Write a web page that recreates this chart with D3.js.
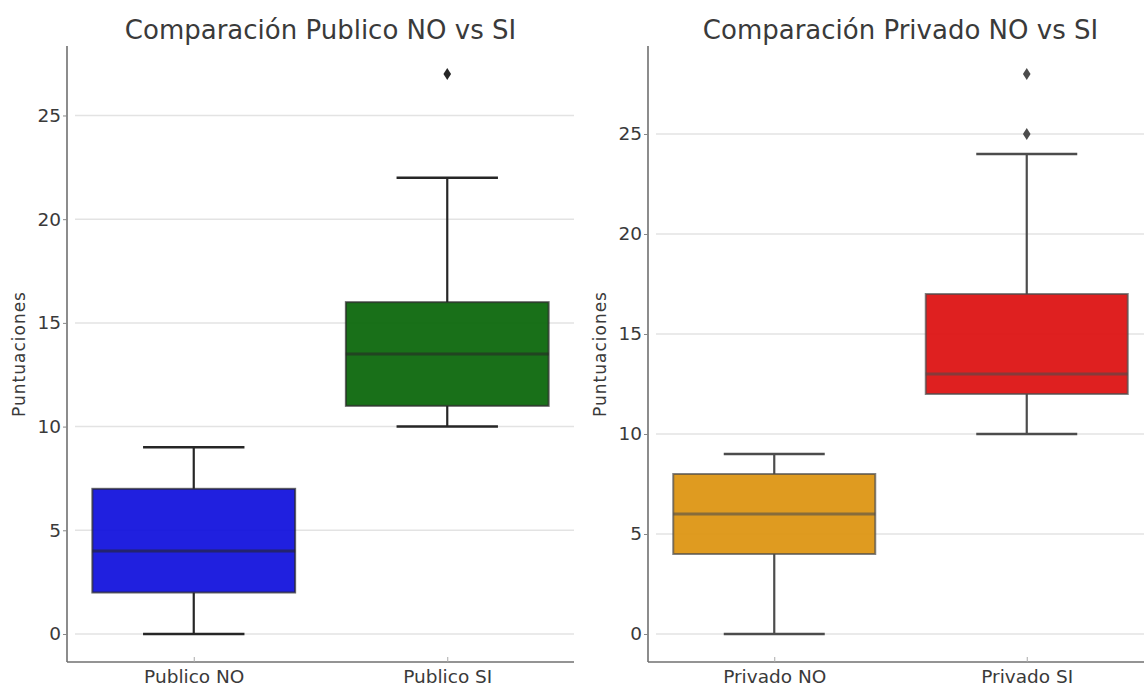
<!DOCTYPE html>
<html><head><meta charset="utf-8">
<script src="https://cdn.jsdelivr.net/npm/d3@7"></script>
<style>
body{margin:0;background:#fff;}
text{font-family:"DejaVu Sans",sans-serif;}
</style></head>
<body><svg id="c" width="1144" height="687"></svg>
<script>
// Data
const publicoCats = ["Publico NO", "Publico SI"];
const publicoMin = [0, 10];
const publicoQ1 = [2, 11];
const publicoMed = [4, 13.5];
const publicoQ3 = [7, 16];
const publicoMax = [9, 22];
const publicoOut = [[], [27]];
const publicoColors = ["#0d0ddc", "#056405"];
const publicoLine = "#262626";

const privadoCats = ["Privado NO", "Privado SI"];
const privadoMin = [0, 10];
const privadoQ1 = [4, 12];
const privadoMed = [6, 13];
const privadoQ3 = [8, 17];
const privadoMax = [9, 24];
const privadoOut = [[], [25, 28]];
const privadoColors = ["#dc930d", "#dc0d0d"];
const privadoLine = "#4c4c4c";

const yTicks = [0, 5, 10, 15, 20, 25];
const titles = ["Comparación Publico NO vs SI", "Comparación Privado NO vs SI"];
const yLabel = "Puntuaciones";

const svg = d3.select("#c");

function panel(cfg) {
  const {x0, x1, top, bottom, cats, mn, q1, med, q3, mx, outs, colors, line, yDom, title} = cfg;
  const g = svg.append("g");
  const x = d3.scaleLinear().domain([-0.5, 1.5]).range([x0, x1]);
  const y = d3.scaleLinear().domain(yDom).range([bottom, top]);
  const step = x(1) - x(0);
  const bw = step * 0.8;

  // grid
  g.selectAll(".grid").data(yTicks).join("line")
    .attr("x1", x0 + 8).attr("x2", x1).attr("y1", d => y(d)).attr("y2", d => y(d))
    .attr("stroke", "#e3e3e3").attr("stroke-width", 1.5);

  const data = cats.map((c, i) => ({i, c, mn: mn[i], q1: q1[i], med: med[i], q3: q3[i], mx: mx[i], out: outs[i], col: colors[i]}));
  const bx = g.selectAll(".bx").data(data).join("g");
  // whiskers
  bx.append("line").attr("x1", d => x(d.i)).attr("x2", d => x(d.i))
    .attr("y1", d => y(d.q3)).attr("y2", d => y(d.mx)).attr("stroke", line).attr("stroke-width", 2.2);
  bx.append("line").attr("x1", d => x(d.i)).attr("x2", d => x(d.i))
    .attr("y1", d => y(d.q1)).attr("y2", d => y(d.mn)).attr("stroke", line).attr("stroke-width", 2.2);
  // caps
  bx.append("line").attr("x1", d => x(d.i) - bw / 4).attr("x2", d => x(d.i) + bw / 4)
    .attr("y1", d => y(d.mx)).attr("y2", d => y(d.mx)).attr("stroke", line).attr("stroke-width", 2.5);
  bx.append("line").attr("x1", d => x(d.i) - bw / 4).attr("x2", d => x(d.i) + bw / 4)
    .attr("y1", d => y(d.mn)).attr("y2", d => y(d.mn)).attr("stroke", line).attr("stroke-width", 2.5);
  // box
  bx.append("rect").attr("x", d => x(d.i) - bw / 2).attr("width", bw)
    .attr("y", d => y(d.q3)).attr("height", d => y(d.q1) - y(d.q3))
    .attr("fill", d => d.col).attr("fill-opacity", 0.92)
    .attr("stroke", line).attr("stroke-opacity", 0.7).attr("stroke-width", 2);
  // median
  bx.append("line").attr("x1", d => x(d.i) - bw / 2).attr("x2", d => x(d.i) + bw / 2)
    .attr("y1", d => y(d.med)).attr("y2", d => y(d.med)).attr("stroke", line)
    .attr("stroke-opacity", 0.6).attr("stroke-width", 3);
  // outliers
  bx.each(function(d) {
    d3.select(this).selectAll("path.o").data(d.out).join("path")
      .attr("d", v => `M${x(d.i)},${y(v) - 6}L${x(d.i) + 3.8},${y(v)}L${x(d.i)},${y(v) + 6}L${x(d.i) - 3.8},${y(v)}Z`)
      .attr("fill", line);
  });

  // axes
  const ya = d3.axisLeft(y).tickValues(yTicks).tickSize(4).tickPadding(2);
  const yg = g.append("g").attr("transform", `translate(${x0},0)`).call(ya);
  yg.select(".domain").attr("d", `M0,${top}V${bottom}`).attr("stroke", "#707070").attr("stroke-width", 1.6);
  yg.selectAll(".tick line").attr("stroke", "#888");
  yg.selectAll(".tick text").attr("font-size", 18.5).attr("fill", "#3a3a3a");

  const xa = d3.axisBottom(x).tickValues([0, 1]).tickFormat(i => cats[i]).tickSize(-5).tickPadding(8);
  const xg = g.append("g").attr("transform", `translate(0,${bottom})`).call(xa);
  xg.select(".domain").attr("d", `M${x0},0H${x1}`).attr("stroke", "#707070").attr("stroke-width", 1.6);
  xg.selectAll(".tick line").attr("stroke", "#aaa");
  xg.selectAll(".tick text").attr("font-size", 18.5).attr("fill", "#3a3a3a");

  g.append("text").attr("x", (x0 + x1) / 2).attr("y", 39).attr("text-anchor", "middle")
    .attr("font-size", 26).attr("fill", "#3a3a3a").text(title);
  g.append("text").attr("transform", `translate(${x0 - 42},${(top + bottom) / 2}) rotate(-90)`)
    .attr("text-anchor", "middle").attr("font-size", 17).attr("letter-spacing", 1)
    .attr("fill", "#3a3a3a").text(yLabel);
}

panel({x0: 67, x1: 574, top: 46, bottom: 662, cats: publicoCats, mn: publicoMin, q1: publicoQ1,
  med: publicoMed, q3: publicoQ3, mx: publicoMax, outs: publicoOut, colors: publicoColors,
  line: publicoLine, yDom: [-1.35, 28.35], title: titles[0]});
panel({x0: 648, x1: 1153, top: 46, bottom: 662, cats: privadoCats, mn: privadoMin, q1: privadoQ1,
  med: privadoMed, q3: privadoQ3, mx: privadoMax, outs: privadoOut, colors: privadoColors,
  line: privadoLine, yDom: [-1.4, 29.4], title: titles[1]});
</script></body></html>
